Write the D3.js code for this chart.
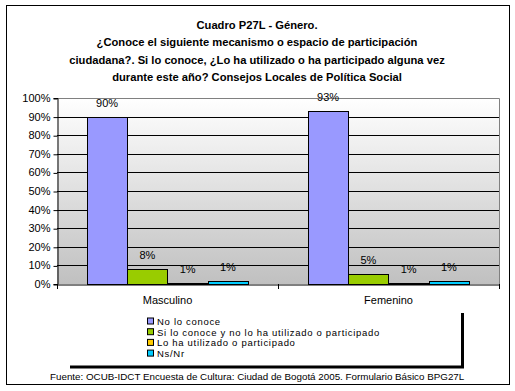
<!DOCTYPE html>
<html><head><meta charset="utf-8">
<script src="https://cdn.jsdelivr.net/npm/d3@7"></script>
<style>body{margin:0;background:#fff}svg{display:block;font-family:"Liberation Sans",Arial,sans-serif}</style>
</head><body><svg id="c" width="515" height="391"></svg>
<script>
const titleLines = ["Cuadro P27L - Género.",
 "¿Conoce el siguiente mecanismo o espacio de participación",
 "ciudadana?. Si lo conoce, ¿Lo ha utilizado o ha participado alguna vez",
 "durante este año? Consejos Locales de Política Social"];
const categories = ["Masculino", "Femenino"];
const seriesNames = ["No lo conoce", "Si lo conoce y no lo ha utilizado o participado", "Lo ha utilizado o participado", "Ns/Nr"];
const seriesColors = ["#9999ff", "#99cc00", "#ffcc00", "#00ccff"];
const noLoConoce = [0.90, 0.93];
const siLoConoce = [0.08, 0.055];
const loHaUtilizado = [0.006, 0.006];
const nsNr = [0.015, 0.015];
const labels = [["90%","8%","1%","1%"],["93%","5%","1%","1%"]];
const yTicks = [0,0.1,0.2,0.3,0.4,0.5,0.6,0.7,0.8,0.9,1.0];
const source = "Fuente: OCUB-IDCT Encuesta de Cultura: Ciudad de Bogotá 2005. Formulario Básico BPG27L";

const FF = "'Liberation Sans', Arial, sans-serif";
const values = [noLoConoce, siLoConoce, loHaUtilizado, nsNr];
const svg = d3.select("#c");
const L = 57, R = 499, T = 98, B = 284;

svg.append("rect").attr("x",6.5).attr("y",5.5).attr("width",503).attr("height",379)
  .attr("fill","#fff").attr("stroke","#000");

const tt = svg.append("text").attr("text-anchor","middle").attr("font-weight","bold")
  .attr("font-size",11.2).attr("fill","#000");
titleLines.forEach((t,i)=>tt.append("tspan").attr("x",257).attr("y",29+i*17.4).text(t));

const defs = svg.append("defs");
const g = defs.append("linearGradient").attr("id","bg").attr("x1",0).attr("y1",0).attr("x2",0).attr("y2",1);
g.append("stop").attr("offset","0%").attr("stop-color","#ffffff");
g.append("stop").attr("offset","100%").attr("stop-color","#c0c0c0");

const y = d3.scaleLinear().domain([0,1]).range([B,T]);
const x0 = d3.scaleBand().domain(categories).range([L,R]);
const x1 = d3.scaleBand().domain(seriesNames).range([30, x0.bandwidth()-30]);

svg.append("rect").attr("x",L).attr("y",T).attr("width",R-L).attr("height",B-T).attr("fill","url(#bg)");

svg.append("g").selectAll("line").data(yTicks.filter(d=>d>0 && d<1)).join("line")
  .attr("x1",L).attr("x2",R).attr("y1",d=>Math.round(y(d))+0.5).attr("y2",d=>Math.round(y(d))+0.5)
  .attr("stroke","#000");
svg.append("path").attr("d",`M${L},${T+0.5}H${R+0.5}V${B}`).attr("fill","none").attr("stroke","#808080");

categories.forEach((c,ci)=>{
  seriesNames.forEach((s,si)=>{
    const v = values[si][ci];
    const bx = x0(c)+x1(s);
    svg.append("rect").attr("x",Math.round(bx)+0.5).attr("y",Math.round(y(v))+0.5)
      .attr("width",Math.round(x1.bandwidth())).attr("height",Math.max(0,Math.round(B-y(v))))
      .attr("fill",seriesColors[si]).attr("stroke","#000");
    svg.append("text").attr("x",bx+x1.bandwidth()/2).attr("y",y(v)-10)
      .attr("text-anchor","middle").attr("font-size",11).attr("fill","#000").text(labels[ci][si]);
  });
});

const ya = svg.append("g").attr("transform",`translate(${L+0.5},0)`)
  .call(d3.axisLeft(y).tickValues(yTicks).tickFormat(d3.format(".0%")).tickSize(4).tickPadding(3));
ya.select(".domain").attr("stroke","#000");
ya.selectAll("text").attr("font-size",11).attr("font-family",FF).attr("fill","#000");
ya.selectAll(".tick line").attr("stroke","#000").attr("transform","translate(0,0.5)");

const xa = svg.append("g").attr("transform",`translate(0,${B+0.5})`)
  .call(d3.axisBottom(x0).tickSize(0).tickPadding(12));
xa.select(".domain").attr("stroke","#000");
xa.selectAll("text").attr("font-size",11).attr("font-family",FF).attr("fill","#000");
svg.append("g").selectAll("line").data([L, L+x0.bandwidth(), R]).join("line")
  .attr("x1",d=>Math.round(d)+0.5).attr("x2",d=>Math.round(d)+0.5).attr("y1",B).attr("y2",B+5).attr("stroke","#000");

svg.append("line").attr("x1",70).attr("x2",464).attr("y1",367).attr("y2",367).attr("stroke","#000").attr("stroke-width",3);
svg.append("line").attr("x1",462.5).attr("x2",462.5).attr("y1",313).attr("y2",368).attr("stroke","#000").attr("stroke-width",3);
seriesNames.forEach((s,i)=>{
  const yy = [321.5,332.2,342.9,353.6][i];
  svg.append("rect").attr("x",147.5).attr("y",yy-3.5).attr("width",6).attr("height",6)
    .attr("fill",seriesColors[i]).attr("stroke","#000");
  svg.append("text").attr("x",157).attr("y",yy+3.5).attr("font-size",9.5).attr("letter-spacing",0.7)
    .attr("fill","#000").text(s);
});

svg.append("text").attr("x",50).attr("y",380).attr("font-size",9.8).attr("fill","#000").text(source);
</script></body></html>
